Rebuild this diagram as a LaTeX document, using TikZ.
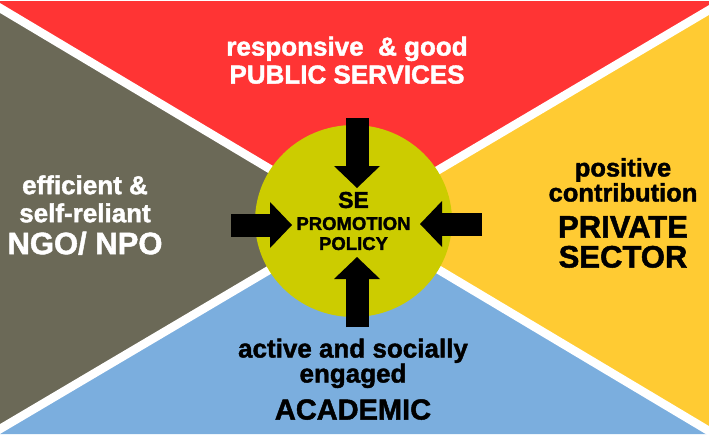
\documentclass[tikz,border=0pt]{standalone}
\usepackage{fontspec}
\setmainfont{Liberation Sans}[BoldFeatures={FakeBold=1.6}]
\usepackage{xcolor}
\usepackage{tikz}
\usetikzlibrary{shapes.geometric, arrows.meta, positioning}
\definecolor{pubred}{HTML}{FF3434}
\definecolor{ngogray}{HTML}{6B6957}
\definecolor{privyellow}{HTML}{FFCB33}
\definecolor{acadblue}{HTML}{7BAEDE}
\definecolor{policygreen}{HTML}{CCCC00}
\tikzstyle{sector} = [align=center, anchor=south, inner sep=0pt, font=\fontsize{26}{28}\selectfont\bfseries]
\tikzstyle{divider} = [white, line width=8.5pt, shorten <=-6pt, shorten >=-6pt]
\tikzstyle{hub} = [ellipse, fill=policygreen, minimum width=197pt, minimum height=192pt, inner sep=0pt, align=center, font=\fontsize{18.5}{20}\selectfont\bfseries]
\tikzstyle{inarrow} = [black, line width=23pt, -{Triangle[width=46pt, length=22pt, line width=0pt]}]
\newcommand{\bigword}{\fontsize{31}{31}\selectfont}
\begin{document}
\begin{tikzpicture}[x=1pt, y=-1pt]
\useasboundingbox (0,0) rectangle (709,437);

% Corners of the dividers
\coordinate (tl) at (0,8);
\coordinate (tr) at (709,10);
\coordinate (bl) at (0,429);
\coordinate (br) at (709,431);
\coordinate (ctr) at (354.5,219.5);

% Sectors
\fill[pubred] (0,1) -- (709,1) -- (tr) -- (ctr) -- (tl) -- cycle;
\fill[ngogray] (tl) -- (ctr) -- (bl) -- cycle;
\fill[privyellow] (tr) -- (br) -- (ctr) -- cycle;
\fill[acadblue] (bl) -- (ctr) -- (br) -- (709,434) -- (0,434) -- cycle;
\draw[divider] (tl) -- (br);
\draw[divider] (bl) -- (tr);

% Policy circle
\node[hub] (policy) at (353.5,221) {{\fontsize{23}{23}\selectfont SE}\\[2pt] PROMOTION\\ POLICY};

% Arrows
\coordinate (ntail) at (357,118);
\coordinate (ntip) at (357,188);
\coordinate (stail) at (357,327);
\coordinate (stip) at (357,257);
\coordinate (wtail) at (231,225);
\coordinate (wtip) at (292,225);
\coordinate (etail) at (482,224);
\coordinate (etip) at (420,224);
\draw[inarrow] (ntail) -- (ntip);
\draw[inarrow] (stail) -- (stip);
\draw[inarrow] (wtail) -- (wtip);
\draw[inarrow] (etail) -- (etip);

% Labels
\node[sector, text=white] (pub) at (347,84) {responsive \ \& good\\ PUBLIC SERVICES};
\node[sector, text=white] (ngo) at (85,255) {efficient \&\\ self-reliant\\[4pt] {\bigword NGO/ NPO}};
\node[sector] (priv) at (623,268) {{\fontsize{25.5}{28}\selectfont positive}\\[-3pt] {\fontsize{25.5}{28}\selectfont contribution}\\[8pt] {\bigword PRIVATE}\\[2pt] {\bigword SECTOR}};
\node[sector] (acad) at (353,420) {active and socially\\[-3pt] engaged\\[9pt] {\fontsize{29}{29}\selectfont ACADEMIC}};
\end{tikzpicture}
\end{document}
